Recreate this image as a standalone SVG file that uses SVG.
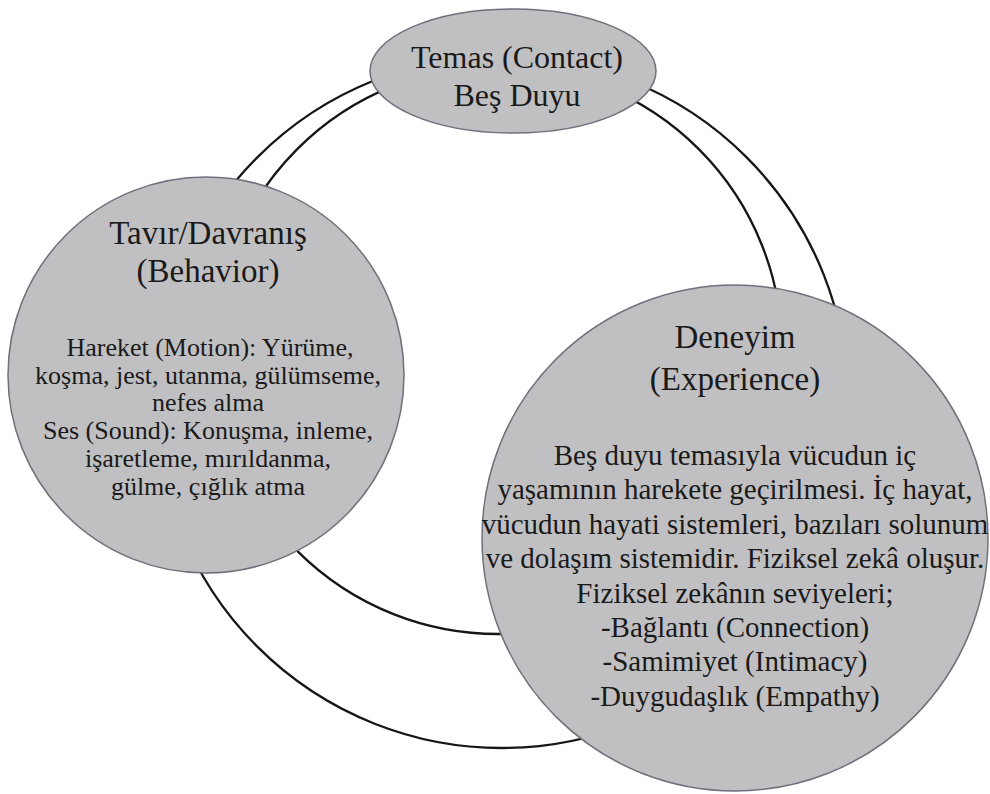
<svg xmlns="http://www.w3.org/2000/svg" width="990" height="794" viewBox="0 0 990 794">
  <style>
    .ring { fill: none; stroke: #161616; stroke-width: 2.3; }
    .node { fill: #c0c0c2; stroke: #70707c; stroke-width: 1.5; }
    text { font-family: "Liberation Serif", "Times New Roman", serif; fill: #1a1a1a; text-anchor: middle; }
    .h { font-size: 33px; }
    .t { font-size: 32px; }
    .bl { font-size: 26px; }
    .br { font-size: 29px; }
  </style>
  <rect width="990" height="794" fill="#ffffff"/>
  <g id="connectors">
    <circle class="ring" cx="502" cy="402" r="346"/>
    <circle class="ring" cx="498" cy="350" r="284"/>
  </g>
  <g id="temas">
    <ellipse class="node" cx="513" cy="71" rx="143" ry="62"/>
    <text class="t" x="517" y="68">Temas (Contact)</text>
    <text class="t" x="517" y="106">Beş Duyu</text>
  </g>
  <g id="davranis">
    <circle class="node" cx="206" cy="375" r="198"/>
    <text class="h" x="208" y="244">Tavır/Davranış</text>
    <text class="h" x="208" y="282">(Behavior)</text>
    <text class="bl" x="210" y="356">Hareket (Motion): Yürüme,</text>
    <text class="bl" x="208" y="383.7">koşma, jest, utanma, gülümseme,</text>
    <text class="bl" x="208" y="411.4">nefes alma</text>
    <text class="bl" x="208" y="439.1">Ses (Sound): Konuşma, inleme,</text>
    <text class="bl" x="208" y="466.8">işaretleme, mırıldanma,</text>
    <text class="bl" x="208" y="494.5">gülme, çığlık atma</text>
  </g>
  <g id="deneyim">
    <circle class="node" cx="735" cy="538" r="253"/>
    <text class="h" x="735" y="348">Deneyim</text>
    <text class="h" x="735" y="390">(Experience)</text>
    <text class="br" x="735" y="465">Beş duyu temasıyla vücudun iç</text>
    <text class="br" x="735" y="499.4">yaşamının harekete geçirilmesi. İç hayat,</text>
    <text class="br" x="735" y="533.8">vücudun hayati sistemleri, bazıları solunum</text>
    <text class="br" x="735" y="568.2">ve dolaşım sistemidir. Fiziksel zekâ oluşur.</text>
    <text class="br" x="735" y="602.6">Fiziksel zekânın seviyeleri;</text>
    <text class="br" x="735" y="637">-Bağlantı (Connection)</text>
    <text class="br" x="735" y="671.4">-Samimiyet (Intimacy)</text>
    <text class="br" x="735" y="705.8">-Duygudaşlık (Empathy)</text>
  </g>
</svg>
